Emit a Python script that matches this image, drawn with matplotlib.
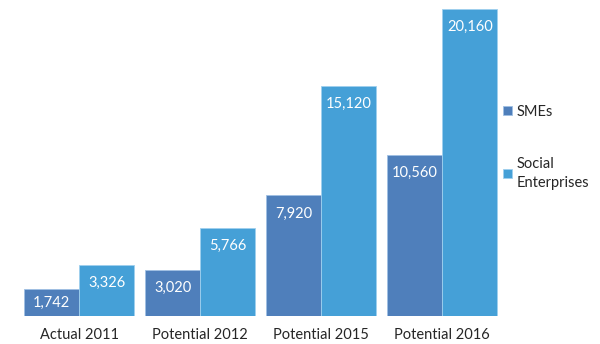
import matplotlib

matplotlib.use("Agg")
import matplotlib.pyplot as plt
import numpy as np

# --- data ---
categories = ["Actual 2011", "Potential 2012", "Potential 2015", "Potential 2016"]
smes = [1742, 3020, 7920, 10560]
social = [3326, 5766, 15120, 20160]

SME_COLOR = "#4f7fbb"
SOCIAL_COLOR = "#45a0d7"
TEXT = "#262626"

plt.rcParams["font.family"] = ["Lato", "DejaVu Sans"]

fig = plt.figure(figsize=(6.0, 3.44), dpi=100)
ax = fig.add_axes([0.031, 0.0814, 0.807, 0.904])

x = np.arange(len(categories))
w = 0.4545
b1 = ax.bar(x - w / 2, smes, w, color=SME_COLOR, edgecolor="#9fc0e4", linewidth=0.6,
            label="SMEs")
b2 = ax.bar(x + w / 2, social, w, color=SOCIAL_COLOR, edgecolor="#9fd0ee", linewidth=0.6,
            label="Social\nEnterprises")

ymax = max(social) * 311 / 307
ax.set_ylim(0, ymax)
ax.set_xlim(-0.5, len(categories) - 0.5)

# value labels just inside the top of each bar
px_per_unit = ax.get_position().height * fig.get_figheight() * fig.dpi / ymax
for bars in (b1, b2):
    for rect in bars:
        v = rect.get_height()
        h_px = v * px_per_unit
        off = min(18, h_px / 2)
        ax.annotate(f"{v:,.0f}", (rect.get_x() + rect.get_width() / 2, v),
                    xytext=(0, -off * 72 / fig.dpi), textcoords="offset points",
                    ha="center", va="center", color="white", fontsize=10.5)

ax.set_xticks(x)
ax.set_xticklabels(categories, fontsize=10.5, color=TEXT)
ax.tick_params(axis="x", length=0, pad=9)
ax.set_yticks([])
for s in ax.spines.values():
    s.set_visible(False)

leg = fig.legend(handles=[b1, b2], loc="upper left", bbox_to_anchor=(0.826, 0.716),
                 frameon=False, fontsize=10.5, handlelength=0.6, handleheight=0.6,
                 handletextpad=0.35, labelspacing=2.6, borderpad=0)
for t in leg.get_texts():
    t.set_color(TEXT)
    t.set_linespacing(1.45)

fig.savefig("out.png", dpi=100)
